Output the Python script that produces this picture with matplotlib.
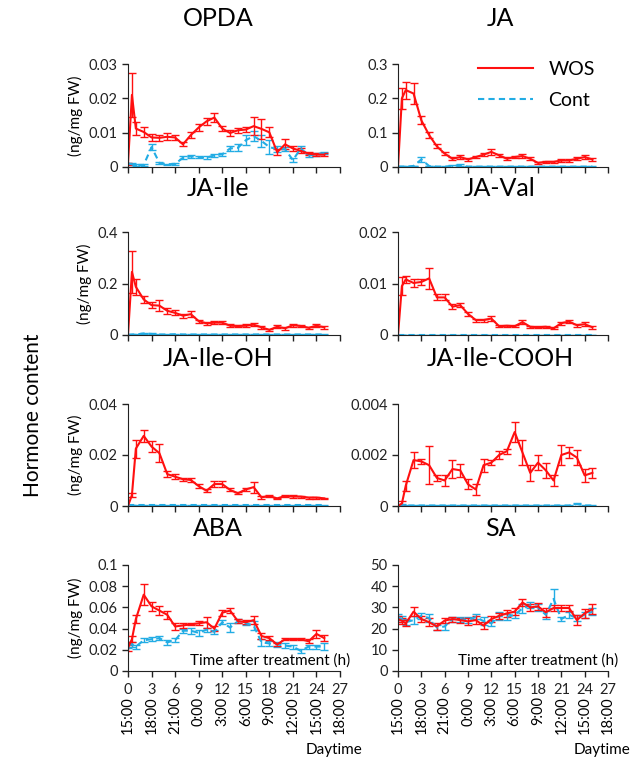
import numpy as np
import matplotlib.pyplot as plt
from matplotlib.ticker import FuncFormatter
from matplotlib.lines import Line2D

plt.rcParams['font.family'] = ['Lato', 'DejaVu Sans']

hours = [0, 0.5] + list(range(1, 26))
hour_ticks = list(range(0, 28, 3))
daytimes = ['15:00', '18:00', '21:00', '0:00', '3:00', '6:00', '9:00',
            '12:00', '15:00', '18:00']

opda_wos = [0.001, 0.021, 0.0112, 0.0102, 0.0086, 0.0085, 0.0088, 0.0086, 0.0066, 0.0093,
            0.0115, 0.0133, 0.0144, 0.0112, 0.0099, 0.0107, 0.0109, 0.0119, 0.0111, 0.0101,
            0.0043, 0.0066, 0.0054, 0.0047, 0.0039, 0.0036, 0.0036]
opda_wos_err = [0.0003, 0.0065, 0.002, 0.0015, 0.001, 0.0008, 0.001, 0.0008, 0.0006, 0.0008,
                0.001, 0.001, 0.0012, 0.0008, 0.0008, 0.0008, 0.0008, 0.0027, 0.0028, 0.0015,
                0.0008, 0.0015, 0.0007, 0.0007, 0.0005, 0.0004, 0.0004]
opda_cont = [0.001, 0.0008, 0.0006, 0.0006, 0.0058, 0.0012, 0.0008, 0.0009, 0.0027, 0.0031,
             0.0029, 0.0027, 0.0034, 0.0037, 0.0054, 0.0056, 0.0078, 0.009, 0.0076, 0.0058,
             0.0052, 0.0052, 0.002, 0.0054, 0.0034, 0.0037, 0.0041]
opda_cont_err = [0.0003, 0.0003, 0.0002, 0.0002, 0.0008, 0.0003, 0.0002, 0.0003, 0.0004, 0.0005,
                 0.0004, 0.0004, 0.0004, 0.0004, 0.0007, 0.001, 0.0015, 0.0015, 0.0018, 0.002,
                 0.0008, 0.0006, 0.0006, 0.0006, 0.0004, 0.0004, 0.0004]

ja_wos = [0, 0.2, 0.224, 0.214, 0.136, 0.093, 0.06, 0.039, 0.024, 0.029, 0.022, 0.029, 0.036,
          0.044, 0.034, 0.024, 0.029, 0.032, 0.024, 0.012, 0.015, 0.015, 0.019, 0.019, 0.024,
          0.029, 0.022]
ja_wos_err = [0, 0.03, 0.025, 0.03, 0.012, 0.008, 0.006, 0.005, 0.004, 0.005, 0.004, 0.004, 0.005,
              0.008, 0.005, 0.004, 0.004, 0.005, 0.004, 0.003, 0.003, 0.003, 0.003, 0.003, 0.004,
              0.006, 0.004]
ja_cont = [0.001, 0.001, 0.001, 0.003, 0.022, 0.003, 0.001, 0.001, 0.003, 0.005, 0.001, 0.001,
           0.001, 0.001, 0.001, 0.001, 0.001, 0.001, 0.001, 0.001, 0.001, 0.001, 0.001, 0.001,
           0.001, 0.001, 0.001]
ja_cont_err = [0.0005, 0.0005, 0.0005, 0.001, 0.008, 0.001, 0.0005, 0.0005, 0.002, 0.003, 0.0005,
               0.0005, 0.0005, 0.0005, 0.0005, 0.0005, 0.0005, 0.0005, 0.0005, 0.0005, 0.0005,
               0.0005, 0.0005, 0.0005, 0.0005, 0.0005, 0.0005]

jaile_wos = [0, 0.245, 0.187, 0.138, 0.116, 0.114, 0.094, 0.086, 0.075, 0.081, 0.054, 0.045,
             0.048, 0.048, 0.036, 0.035, 0.036, 0.04, 0.03, 0.02, 0.032, 0.026, 0.038, 0.035,
             0.028, 0.036, 0.03]
jaile_wos_err = [0, 0.08, 0.03, 0.015, 0.012, 0.02, 0.012, 0.01, 0.008, 0.012, 0.006, 0.005,
                 0.005, 0.005, 0.005, 0.004, 0.005, 0.006, 0.005, 0.004, 0.005, 0.005, 0.006,
                 0.005, 0.005, 0.006, 0.005]
jaile_cont = [0.001, 0.002, 0.002, 0.006, 0.004, 0.002, 0.002, 0.003, 0.002, 0.002, 0.002, 0.002,
              0.002, 0.002, 0.002, 0.002, 0.002, 0.002, 0.002, 0.002, 0.002, 0.002, 0.002, 0.002,
              0.002, 0.002, 0.002]
jaile_cont_err = [0.0005, 0.001, 0.001, 0.003, 0.002, 0.001, 0.001, 0.002, 0.001, 0.001, 0.001,
                  0.001, 0.001, 0.001, 0.001, 0.001, 0.001, 0.001, 0.001, 0.001, 0.001, 0.001,
                  0.001, 0.001, 0.001, 0.001, 0.001]

javal_wos = [0, 0.0095, 0.0108, 0.0101, 0.0103, 0.011, 0.0073, 0.0073, 0.0055, 0.0058, 0.0041,
             0.0029, 0.0029, 0.0032, 0.0017, 0.0018, 0.0017, 0.0025, 0.0016, 0.0015, 0.0016,
             0.0013, 0.0023, 0.0026, 0.0019, 0.0021, 0.0015]
javal_wos_err = [0, 0.0018, 0.0007, 0.0007, 0.0006, 0.002, 0.0006, 0.0006, 0.0005, 0.0004, 0.0004,
                 0.0003, 0.0003, 0.0004, 0.0002, 0.0002, 0.0002, 0.0004, 0.0002, 0.0002, 0.0002,
                 0.0002, 0.0003, 0.0003, 0.0003, 0.0004, 0.0003]
javal_cont = [0.00003] * 27
javal_cont_err = [0.00001] * 27

jaileoh_wos = [0, 0.0043, 0.0225, 0.0275, 0.0233, 0.0207, 0.0125, 0.0115, 0.0105, 0.0102,
               0.0078, 0.006, 0.0086, 0.0086, 0.0063, 0.005, 0.0065, 0.0074, 0.0034, 0.0039,
               0.003, 0.0039, 0.0037, 0.0037, 0.0033, 0.0033, 0.003]
jaileoh_wos_err = [0, 0.0008, 0.0035, 0.0025, 0.0022, 0.0035, 0.0012, 0.001, 0.0006, 0.0006,
                   0.0008, 0.0006, 0.0012, 0.0012, 0.0006, 0.0004, 0.0006, 0.0022, 0.0005, 0.0005,
                   0.0003, 0.0005, 0.0005, 0.0004, 0.0004, 0.0004, 0.0003]
jaileoh_cont = [0.0002] * 27
jaileoh_cont_err = [0.0001] * 27

jailecooh_wos = [0, 0.0001, 0.0008, 0.0018, 0.00175, 0.0016, 0.0011, 0.001, 0.00145, 0.0014,
                 0.00085, 0.00065, 0.0016, 0.0017, 0.002, 0.00215, 0.0029, 0.0021, 0.0013,
                 0.0017, 0.0014, 0.001, 0.002, 0.0021, 0.0019, 0.0012, 0.0013]
jailecooh_wos_err = [0, 0.0001, 0.0002, 0.0003, 0.0001, 0.00075, 0.0001, 0.0002, 0.00035,
                     0.00025, 0.0002, 0.0002, 0.00025, 0.0001, 0.00015, 0.0001, 0.0004, 0.0005,
                     0.0003, 0.0003, 0.0003, 0.0002, 0.0004, 0.0002, 0.0003, 0.00025, 0.0002]
jailecooh_cont = [0.00002, 0.00005, 0.00002, 0.00002, 0.00002, 0.00002, 0.00002, 0.00002,
                  0.00002, 0.00002, 0.00002, 0.00002, 0.00002, 0.00002, 0.00002, 0.00002,
                  0.00002, 0.00002, 0.00002, 0.00002, 0.00002, 0.00002, 0.00002, 0.00002,
                  0.00008, 0.00002, 0.00002]
jailecooh_cont_err = [0.00002] * 27

aba_wos = [0.022, 0.03, 0.049, 0.072, 0.061, 0.057, 0.053, 0.042, 0.043, 0.044, 0.045, 0.046,
           0.04, 0.055, 0.057, 0.047, 0.046, 0.048, 0.033, 0.031, 0.025, 0.03, 0.03, 0.03,
           0.028, 0.035, 0.031]
aba_wos_err = [0.003, 0.003, 0.004, 0.01, 0.004, 0.004, 0.004, 0.003, 0.002, 0.001, 0.002, 0.005,
               0.002, 0.003, 0.002, 0.002, 0.002, 0.004, 0.003, 0.002, 0.001, 0.001, 0.001, 0.001,
               0.002, 0.004, 0.003]
aba_cont = [0.024, 0.025, 0.023, 0.029, 0.03, 0.031, 0.027, 0.029, 0.038, 0.038, 0.036, 0.039,
            0.037, 0.046, 0.041, 0.047, 0.045, 0.043, 0.027, 0.026, 0.025, 0.024, 0.023, 0.019,
            0.023, 0.023, 0.023]
aba_cont_err = [0.002, 0.002, 0.002, 0.002, 0.002, 0.002, 0.002, 0.002, 0.002, 0.003, 0.003, 0.002,
                0.002, 0.002, 0.004, 0.002, 0.002, 0.004, 0.003, 0.002, 0.002, 0.002, 0.002, 0.002,
                0.002, 0.002, 0.003]

sa_wos = [24.5, 23.7, 22.5, 28, 24.5, 23, 21, 23.8, 24.5, 24, 23.4, 24, 21.4, 24.5, 26, 27.2,
          28, 32.3, 30, 30.5, 27.7, 29.7, 29.7, 29.7, 24, 27.2, 29.2]
sa_wos_err = [1.5, 1.5, 1.5, 2, 1.5, 1.8, 1.5, 1.2, 1.2, 1.2, 1.5, 2, 1.8, 1.5, 1.5, 1.5, 1.5, 1.5,
              1.5, 1.5, 2, 1.5, 1.5, 1.5, 2.5, 2, 2.5]
sa_cont = [25.5, 24.5, 23, 24, 26, 25, 20.5, 21, 24.5, 24.5, 24, 25.5, 23.5, 22.5, 26, 25.5,
           26.5, 29.5, 31, 30, 26.5, 34, 24.5, 26.5, 25, 26.5, 28]
sa_cont_err = [1.5, 1.5, 1.5, 2, 1.5, 2, 1.2, 1.5, 1.2, 1.2, 1.5, 1.2, 2, 1.5, 2, 1.5, 1.5, 2,
               1.5, 1.5, 2, 4.5, 1, 1.5, 1.5, 1.5, 1.5]

panels = [
    ('OPDA', opda_wos, opda_wos_err, opda_cont, opda_cont_err, [0, 0.01, 0.02, 0.03]),
    ('JA', ja_wos, ja_wos_err, ja_cont, ja_cont_err, [0, 0.1, 0.2, 0.3]),
    ('JA-Ile', jaile_wos, jaile_wos_err, jaile_cont, jaile_cont_err, [0, 0.2, 0.4]),
    ('JA-Val', javal_wos, javal_wos_err, javal_cont, javal_cont_err, [0, 0.01, 0.02]),
    ('JA-Ile-OH', jaileoh_wos, jaileoh_wos_err, jaileoh_cont, jaileoh_cont_err, [0, 0.02, 0.04]),
    ('JA-Ile-COOH', jailecooh_wos, jailecooh_wos_err, jailecooh_cont, jailecooh_cont_err,
     [0, 0.002, 0.004]),
    ('ABA', aba_wos, aba_wos_err, aba_cont, aba_cont_err, [0, 0.02, 0.04, 0.06, 0.08, 0.1]),
    ('SA', sa_wos, sa_wos_err, sa_cont, sa_cont_err, [0, 10, 20, 30, 40, 50]),
]

red = '#FF1010'
blue = '#22ACE4'
dash = (0, (3, 2))

W, H = 636, 765
fig = plt.figure(figsize=(W / 100, H / 100), dpi=100)

col_x = [(128, 340), (398, 608)]
row_y = [(64, 167), (232, 335), (404, 506), (565, 671)]
title_x = [218, 500]
title_y = [18, 188, 358, 528]

fmt = FuncFormatter(lambda v, p: '%g' % v)

for i, (name, wos, wos_err, cont, cont_err, yt) in enumerate(panels):
    r, c = divmod(i, 2)
    x0, x1 = col_x[c]
    y0, y1 = row_y[r]
    ax = fig.add_axes([x0 / W, 1 - y1 / H, (x1 - x0) / W, (y1 - y0) / H])
    ax.errorbar(hours, cont, yerr=cont_err, color=blue, lw=1.5, ls=dash,
                capsize=3, elinewidth=1, capthick=1)
    ax.errorbar(hours, wos, yerr=wos_err, color=red, lw=1.5, capsize=3,
                elinewidth=1, capthick=1)
    ax.set_xlim(0, 27)
    ax.set_ylim(yt[0], yt[-1])
    ax.set_yticks(yt)
    ax.yaxis.set_major_formatter(fmt)
    ax.set_xticks(hour_ticks)
    ax.spines['top'].set_visible(False)
    ax.spines['right'].set_visible(False)
    ax.spines['left'].set_color('#222222')
    ax.spines['bottom'].set_color('#222222')
    ax.tick_params(direction='out', length=4, width=1, labelsize=10.5, colors='#222222')
    fig.text(title_x[c] / W, 1 - title_y[r] / H, name, ha='center', va='center', fontsize=18)
    if c == 0:
        ax.set_ylabel('(ng/mg FW)', fontsize=11, labelpad=4)
    if r < 3:
        ax.set_xticklabels([])
    else:
        ax.tick_params(axis='x', pad=5)
        sec = ax.secondary_xaxis(-0.24)
        sec.set_xticks(hour_ticks, labels=daytimes, rotation=90)
        sec.tick_params(length=0, pad=0, labelsize=10.5)
        sec.spines['bottom'].set_visible(False)
        ax.text(1.05, 0.03, 'Time after treatment (h)', transform=ax.transAxes,
                ha='right', va='bottom', fontsize=11)
        fig.text((x1 + 22) / W, 1 - 750 / H, 'Daytime', ha='right', va='center', fontsize=11)
    if name == 'JA':
        handles = [Line2D([], [], color=red, lw=1.5),
                   Line2D([], [], color=blue, lw=1.5, ls=dash)]
        ax.legend(handles, ['WOS', 'Cont'], loc='upper right', bbox_to_anchor=(1.02, 1.2),
                  frameon=False, fontsize=14, handlelength=2.8, labelspacing=0.7)

fig.text(33 / W, 1 - 415 / H, 'Hormone content', rotation=90, ha='center', va='center',
         fontsize=15)

fig.savefig('out.png', dpi=100)
